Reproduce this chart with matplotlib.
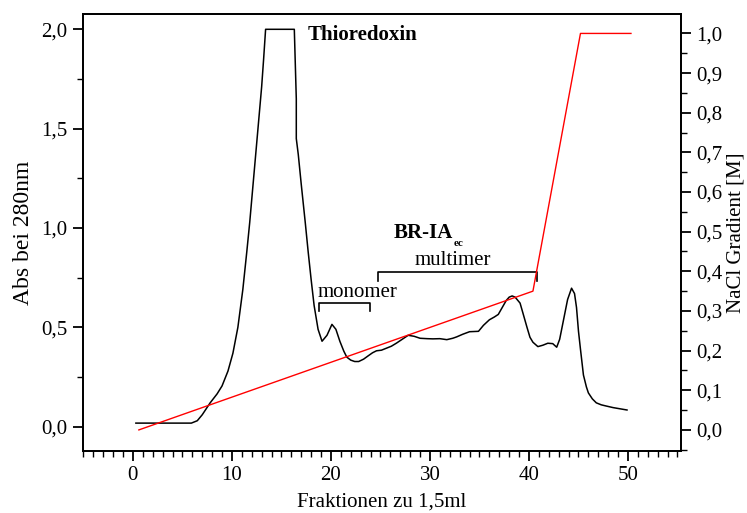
import matplotlib
matplotlib.use("Agg")
import matplotlib.pyplot as plt
from matplotlib.ticker import MultipleLocator, FuncFormatter

plt.rcParams['font.family'] = ['Liberation Serif', 'DejaVu Serif']

# absorbance trace
abs_x = [0.3, 2, 4, 5.9, 6.5, 7.0, 7.8, 8.5, 9.0, 9.6, 10.1, 10.6, 11.1, 11.5,
         11.8, 12.1, 12.4, 12.7, 13.0, 13.2, 13.4, 16.3, 16.5, 16.5, 16.7, 17.0,
         17.4, 17.7, 18.0, 18.3, 18.7, 19.1, 19.6, 20.1, 20.5, 20.9, 21.3, 21.6,
         22.0, 22.4, 22.8, 23.3, 23.8, 24.2, 24.6, 25.1, 25.6, 26.1, 26.6, 27.2,
         27.8, 28.4, 29.0, 29.7, 30.3, 31.0, 31.7, 32.3, 32.7, 33.3, 34.0, 34.9,
         35.4, 36.0, 36.5, 36.9, 37.3, 37.7, 38.0, 38.3, 38.6, 39.1, 39.4, 39.8,
         40.1, 40.4, 40.9, 41.4, 41.9, 42.4, 42.8, 43.1, 43.5, 43.9, 44.3, 44.6,
         44.8, 45.0, 45.2, 45.5, 45.8, 46.0, 46.4, 46.8, 47.3, 47.8, 48.5, 49.2,
         49.9]
abs_y = [0.018, 0.018, 0.018, 0.018, 0.03, 0.06, 0.12, 0.165, 0.205, 0.28, 0.37,
         0.50, 0.69, 0.88, 1.03, 1.20, 1.37, 1.54, 1.71, 1.85, 2.0, 2.0, 1.65,
         1.45, 1.37, 1.22, 1.03, 0.88, 0.74, 0.61, 0.49, 0.43, 0.46, 0.515, 0.49,
         0.43, 0.38, 0.35, 0.335, 0.328, 0.328, 0.34, 0.358, 0.372, 0.382, 0.385,
         0.395, 0.405, 0.42, 0.44, 0.46, 0.455, 0.445, 0.443, 0.442, 0.443, 0.438,
         0.445, 0.452, 0.465, 0.478, 0.48, 0.51, 0.538, 0.552, 0.565, 0.60, 0.635,
         0.652, 0.658, 0.652, 0.622, 0.57, 0.50, 0.45, 0.425, 0.403, 0.41, 0.42,
         0.418, 0.40, 0.44, 0.54, 0.64, 0.697, 0.67, 0.60, 0.48, 0.39, 0.26, 0.20,
         0.17, 0.14, 0.12, 0.11, 0.104, 0.096, 0.09, 0.084]

# NaCl gradient
nacl_x = [0.6, 40.4, 45.2, 50.3]
nacl_y = [0.0, 0.35, 1.0, 1.0]

fig = plt.figure(figsize=(7.47, 5.13), dpi=100)
ax = fig.add_axes([0.111, 0.121, 0.8006, 0.8517])
ax2 = ax.twinx()

ax.plot(abs_x, abs_y, color='black', lw=1.1)
ax2.plot(nacl_x, nacl_y, color='red', lw=1.0)

ax.set_xlim(-5.05, 55.35)
ax.set_ylim(-0.122, 2.077)
ax2.set_ylim(-0.053, 1.049)

ax.xaxis.set_major_locator(MultipleLocator(10))
ax.xaxis.set_minor_locator(MultipleLocator(1))
ax.yaxis.set_major_locator(MultipleLocator(0.5))
ax.yaxis.set_minor_locator(MultipleLocator(0.25))
ax2.yaxis.set_major_locator(MultipleLocator(0.1))
ax2.yaxis.set_minor_locator(MultipleLocator(0.05))

comma = FuncFormatter(lambda v, p: f"{v:.1f}".replace('.', ','))
ax.yaxis.set_major_formatter(comma)
ax2.yaxis.set_major_formatter(comma)
ax.xaxis.set_major_formatter(FuncFormatter(lambda v, p: f"{v:.0f}"))

for a in (ax, ax2):
    a.tick_params(which='major', direction='out', length=7, width=1.3,
                  labelsize=15, pad=4)
    a.tick_params(which='minor', direction='out', length=4, width=1.0)
    for s in a.spines.values():
        s.set_linewidth(1.3)
ax.tick_params(axis='x', which='both', top=False)

ax.set_xlabel("Fraktionen zu 1,5ml", fontsize=15, labelpad=5)
ax.set_ylabel("Abs bei 280nm", fontsize=17, labelpad=5)
ax2.set_ylabel("NaCl Gradient [M]", fontsize=15, labelpad=3)

# annotations
ax.text(17.6, 1.948, "Thioredoxin", fontsize=15, fontweight='bold', va='baseline')
t = ax.text(26.3, 0.95, "BR-IA", fontsize=15, fontweight='bold', va='baseline')
ax.annotate("ec", xy=(1, 0), xycoords=t, xytext=(0.5, -2), textcoords='offset points',
            fontsize=8, fontweight='bold', va='baseline')
ax.text(32.3, 0.815, "multimer", fontsize=15, ha='center', va='baseline')
ax.text(18.7, 0.655, "monomer", fontsize=15, va='baseline')

ax.plot([18.8, 18.8, 23.9, 23.9], [0.584, 0.622, 0.622, 0.584], color='black', lw=1.2)
ax.plot([24.8, 24.8, 40.8, 40.8], [0.735, 0.778, 0.778, 0.735], color='black', lw=1.2)

fig.savefig("out.png", dpi=100)
